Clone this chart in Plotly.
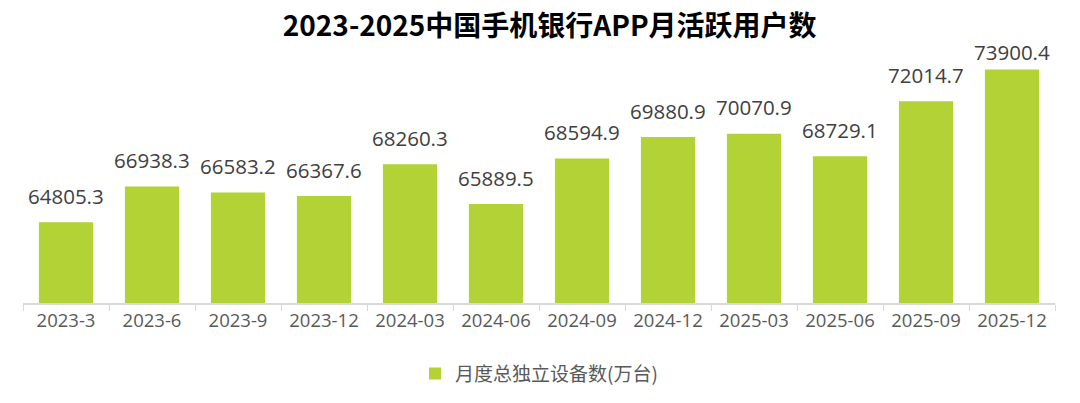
import plotly.graph_objects as go

categories = ["2023-3", "2023-6", "2023-9", "2023-12", "2024-03", "2024-06",
              "2024-09", "2024-12", "2025-03", "2025-06", "2025-09", "2025-12"]
values = [64805.3, 66938.3, 66583.2, 66367.6, 68260.3, 65889.5,
          68594.9, 69880.9, 70070.9, 68729.1, 72014.7, 73900.4]
series_name = "月度总独立设备数(万台)"
title_text = "2023-2025中国手机银行APP月活跃用户数"

W, H = 1080, 403
M_T, M_B, M_L, M_R = 51, 99, 23, 25
Y_MIN, Y_MAX = 60000, 75000
plot_h = H - M_T - M_B

fig = go.Figure()
fig.add_trace(go.Bar(
    x=categories, y=values, name=series_name,
    marker=dict(color="#b2d235", line=dict(width=0)),
    width=0.63,
    showlegend=True,
))

# value labels above bars; like the source engine, keep labels inside the chart area
LABEL_OFFSET = 26.5
LABEL_MIN_CENTER = 52.5
for c, v in zip(categories, values):
    bar_top_px = M_T + (Y_MAX - v) / (Y_MAX - Y_MIN) * plot_h
    shift = min(LABEL_OFFSET, bar_top_px - LABEL_MIN_CENTER)
    fig.add_annotation(
        x=c, y=v, text=f"{v:.1f}", showarrow=False,
        xanchor="center", yanchor="middle", yshift=shift,
        font=dict(family="Open Sans, Noto Sans CJK SC", size=20.5, color="#404040"),
    )

fig.update_layout(
    width=W, height=H,
    margin=dict(l=M_L, r=M_R, t=M_T, b=M_B),
    paper_bgcolor="white", plot_bgcolor="white",
    title=dict(text=f"<b>{title_text}</b>", x=0.509, xanchor="center", y=0.935, yanchor="middle",
               font=dict(family="Noto Sans CJK SC", size=28, color="#000000")),
    showlegend=True,
    legend=dict(orientation="h", x=0.5, xanchor="center", y=-0.275, yanchor="middle",
                font=dict(family="Noto Sans CJK SC", size=19, color="#595959")),
)
fig.update_xaxes(
    type="category",
    showline=True, linecolor="#d9d9d9", linewidth=1.5,
    ticks="outside", ticklen=6, tickcolor="#d9d9d9", tickson="boundaries",
    tickfont=dict(family="Open Sans, Noto Sans CJK SC", size=18.5, color="#595959"),
    showgrid=False,
)
fig.update_yaxes(range=[Y_MIN, Y_MAX], visible=False, showgrid=False)

fig.write_html("out.html")
